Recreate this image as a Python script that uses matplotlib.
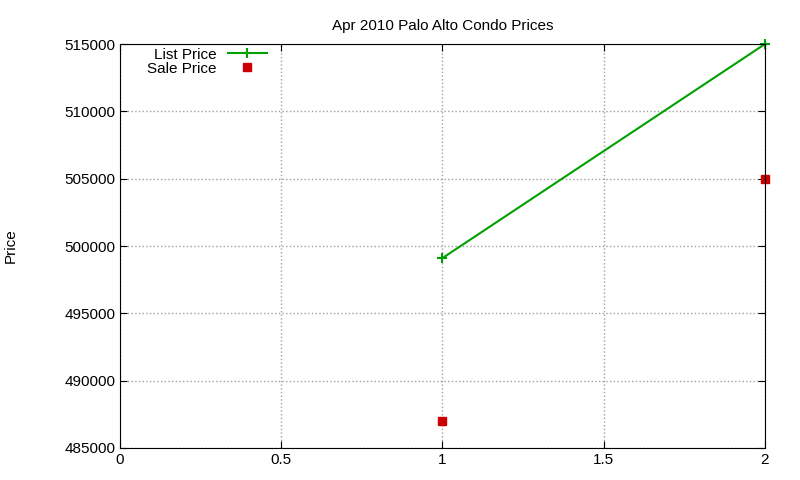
import matplotlib
matplotlib.use("Agg")
import matplotlib.pyplot as plt

x = [1, 2]
list_price = [499100, 515000]
sale_price = [487000, 505000]
xticks = [0, 0.5, 1, 1.5, 2]
yticks = [485000, 490000, 495000, 500000, 505000, 510000, 515000]

plt.rcParams['font.family'] = ['Liberation Sans', 'DejaVu Sans']
fig = plt.figure(figsize=(8, 4.8), dpi=100)
ax = fig.add_axes([0.15, 0.067, 0.806, 0.841])
ax.plot(x, list_price, color='#00a000', marker='+', markersize=7, markeredgewidth=1.5,
        linewidth=1.5, label='List Price', clip_on=False)
ax.plot(x, sale_price, color='#cc0000', marker='s', markersize=6, linestyle='none',
        label='Sale Price', clip_on=False)
ax.set_xlim(0, 2)
ax.set_ylim(485000, 515000)
ax.set_xticks(xticks)
ax.set_xticklabels(['0', '0.5', '1', '1.5', '2'])
ax.set_yticks(yticks)
ax.set_yticklabels([str(v) for v in yticks])
ax.tick_params(labelsize=11, direction='in', length=5, top=True, right=True)
ax.grid(True, color='#a0a0a0', linestyle=':', linewidth=1)
ax.set_title('Apr 2010 Palo Alto Condo Prices', fontsize=11, pad=10)
ax.text(-0.17, 0.5, 'Price', transform=ax.transAxes, rotation=90, fontsize=11,
        ha='center', va='center')
leg = ax.legend(loc='upper left', markerfirst=False, frameon=False, fontsize=11,
                bbox_to_anchor=(0.02, 1.025), handlelength=2.5, labelspacing=0.0)
for t in leg.get_texts():
    t.set_ha('right')
leg._legend_box.align = 'right'
fig.savefig('out.png', dpi=100)
